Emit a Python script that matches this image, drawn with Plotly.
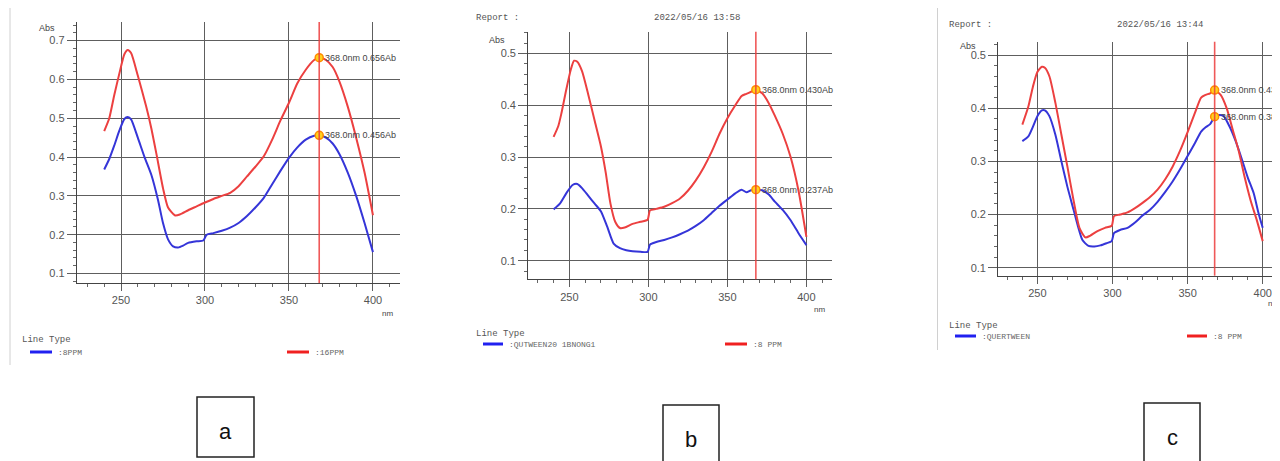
import plotly.graph_objects as go

# page body has an 8px default margin; figure is sized/offset to compensate
OFF = 8
W, H = 1280 - OFF, 461 - OFF

# ---------------- data ----------------
# Panel a
a_nm_red = [240, 243, 246, 249, 252, 254, 256, 260, 265, 268, 271, 275, 278, 282, 285, 290, 295, 300, 305, 310,
            315, 320, 325, 330, 335, 340, 345, 350, 355, 360, 365, 368, 372, 376, 380, 385, 390, 395, 400]
a_red = [0.467, 0.50, 0.56, 0.615, 0.665, 0.676, 0.668, 0.61, 0.53, 0.475, 0.41, 0.32, 0.27, 0.25, 0.252, 0.263,
         0.273, 0.283, 0.292, 0.30, 0.308, 0.325, 0.35, 0.375, 0.402, 0.445, 0.495, 0.54, 0.59, 0.625, 0.65, 0.656,
         0.65, 0.632, 0.595, 0.53, 0.45, 0.36, 0.25]
a_nm_blue = [240, 243, 246, 249, 252, 254, 256, 260, 264, 268, 272, 275, 278, 281, 284, 287, 290, 295, 299, 301,
             305, 310, 315, 320, 325, 330, 335, 340, 345, 350, 355, 360, 365, 368, 372, 376, 380, 385, 390, 395, 400]
a_blue = [0.368, 0.395, 0.43, 0.468, 0.498, 0.503, 0.497, 0.45, 0.40, 0.355, 0.29, 0.23, 0.188, 0.17, 0.167, 0.172,
          0.179, 0.183, 0.185, 0.2, 0.204, 0.21, 0.218, 0.23, 0.248, 0.27, 0.295, 0.33, 0.365, 0.398, 0.425, 0.445,
          0.455, 0.456, 0.45, 0.435, 0.408, 0.36, 0.30, 0.23, 0.155]
a_names = [":8PPM", ":16PPM"]
a_cursor = [0.456, 0.656]

# Panel b
b_nm_red = [240, 243, 245, 248, 251, 253, 255, 258, 262, 266, 270, 273, 276, 279, 282, 285, 290, 295, 299.5, 301,
            305, 310, 315, 320, 325, 330, 335, 340, 345, 350, 355, 359, 362, 365, 368, 372, 376, 380, 385, 390, 395, 400]
b_red = [0.339, 0.36, 0.385, 0.43, 0.47, 0.486, 0.484, 0.466, 0.42, 0.37, 0.32, 0.27, 0.21, 0.175, 0.163, 0.164,
         0.171, 0.175, 0.179, 0.197, 0.20, 0.204, 0.211, 0.22, 0.235, 0.255, 0.28, 0.31, 0.345, 0.375, 0.40, 0.418,
         0.422, 0.426, 0.430, 0.423, 0.405, 0.38, 0.345, 0.30, 0.235, 0.146]
b_nm_blue = [240, 244, 248, 252, 255, 258, 262, 266, 270, 274, 278, 282, 286, 290, 295, 299.5, 301, 305, 310, 315,
             320, 325, 330, 335, 340, 345, 350, 355, 359, 362, 365, 368, 372, 376, 380, 385, 390, 395, 400]
b_blue = [0.199, 0.21, 0.23, 0.246, 0.248, 0.24, 0.225, 0.21, 0.195, 0.165, 0.133, 0.124, 0.12, 0.118, 0.117, 0.117,
          0.131, 0.136, 0.14, 0.145, 0.151, 0.158, 0.167, 0.178, 0.192, 0.206, 0.218, 0.23, 0.237, 0.232, 0.236,
          0.237, 0.236, 0.228, 0.214, 0.198, 0.178, 0.153, 0.13]
b_names = [":QUTWEEN20 1BNONG1", ":8 PPM"]
b_cursor = [0.237, 0.430]
b_date = "2022/05/16 13:58"

# Panel c
c_nm_red = [240, 244, 247, 250, 253, 255, 258, 262, 266, 270, 274, 278, 282, 285, 290, 295, 299.5, 301, 305, 310,
            315, 320, 325, 330, 335, 340, 345, 350, 355, 359, 362, 365, 368, 372, 376, 380, 384, 388, 392, 396, 400]
c_red = [0.369, 0.403, 0.44, 0.468, 0.478, 0.476, 0.46, 0.41, 0.35, 0.29, 0.228, 0.175, 0.157, 0.16, 0.169, 0.175,
         0.179, 0.197, 0.20, 0.204, 0.212, 0.222, 0.233, 0.247, 0.266, 0.29, 0.32, 0.355, 0.392, 0.42, 0.425, 0.428,
         0.434, 0.425, 0.40, 0.36, 0.32, 0.27, 0.226, 0.19, 0.15]
c_nm_blue = [240, 244, 247, 250, 253, 255, 258, 262, 266, 270, 274, 277, 280, 284, 288, 292, 296, 299.5, 301, 305,
             310, 315, 320, 325, 330, 335, 340, 345, 350, 355, 359, 362, 365, 368, 371, 374, 378, 382, 386, 390, 394,
             397, 400]
c_blue = [0.338, 0.347, 0.365, 0.385, 0.396, 0.396, 0.385, 0.35, 0.30, 0.252, 0.21, 0.178, 0.152, 0.141, 0.14, 0.142,
          0.146, 0.15, 0.165, 0.171, 0.175, 0.185, 0.198, 0.209, 0.224, 0.242, 0.262, 0.285, 0.31, 0.335, 0.356,
          0.364, 0.37, 0.384, 0.387, 0.385, 0.365, 0.338, 0.305, 0.27, 0.24, 0.205, 0.175]
c_names = [":QUERTWEEN", ":8 PPM"]
c_cursor = [0.384, 0.434]
c_date = "2022/05/16 13:44"

cursor_nm = 368.0
x_ticks = [250, 300, 350, 400]
panel_letters = ["a", "b", "c"]

# ---------------- layout helpers (window pixels -> paper) ----------------
def px(x):
    return (x - OFF) / W

def py(y):
    return 1 - (y - OFF) / H

RED = "#ec4040"
BLUE = "#3535d8"
GRID = "#5e5e5e"
TICKFONT = dict(family="Liberation Sans", size=11, color="#555")
MONO = "Liberation Mono"


def note(x, y, text, size, family="Liberation Sans", color="#444", xanchor="center"):
    return dict(x=px(x), y=py(y), xref="paper", yref="paper", text=text, showarrow=False,
                xanchor=xanchor, yanchor="middle", font=dict(family=family, size=size, color=color))


panels = [
    dict(nm=(a_nm_blue, a_nm_red), ab=(a_blue, a_red), names=a_names, cur=a_cursor,
         xdom=(77, 400), ydom=(22, 283), xr=(223.8, 416.1), yr=(0.0755, 0.748), ydt=0.1,
         abs_xy=(47, 28), nm_xy=(387, 313), date=None),
    dict(nm=(b_nm_blue, b_nm_red), ab=(b_blue, b_red), names=b_names, cur=b_cursor,
         xdom=(528.3, 831.7), ydom=(31.7, 279.3), xr=(224, 416), yr=(0.064, 0.542), ydt=0.1,
         abs_xy=(497, 40), nm_xy=(819, 309), date=(474, 697, 18, b_date)),
    dict(nm=(c_nm_blue, c_nm_red), ab=(c_blue, c_red), names=c_names, cur=c_cursor,
         xdom=(998.3, 1280), ydom=(41.7, 275.7), xr=(224, 411.5), yr=(0.085, 0.525), ydt=0.1,
         abs_xy=(968, 46), nm_xy=(1273, 303), date=(947, 1160, 25, c_date)),
]

legend_pos = [
    dict(lt=(20, 340), blue=(30, 52, 352), red=(287, 309, 352)),
    dict(lt=(474, 334), blue=(483, 503, 344), red=(725, 747, 344)),
    dict(lt=(947, 326), blue=(955, 976, 336), red=(1187, 1207, 336)),
]

boxes = [(197, 397, 254, 457), (663, 405, 719, 470), (1144, 403, 1200, 470)]

fig = go.Figure()
layout = dict(width=W, height=H, margin=dict(l=0, r=0, t=0, b=0), plot_bgcolor="white",
              paper_bgcolor="white", showlegend=False)
annotations = []
shapes = []

for i, p in enumerate(panels):
    k = "" if i == 0 else str(i + 1)
    xa, ya = "x" + k, "y" + k
    for nm, ab, col in [(p["nm"][0], p["ab"][0], BLUE), (p["nm"][1], p["ab"][1], RED)]:
        fig.add_trace(go.Scatter(x=nm, y=ab, mode="lines", line=dict(color=col, width=2, shape="spline", smoothing=0.6),
                                 xaxis=xa, yaxis=ya, hoverinfo="skip"))
    # cursor line
    shapes.append(dict(type="line", xref=xa, yref=ya + " domain", x0=cursor_nm, x1=cursor_nm, y0=0, y1=1,
                       line=dict(color="rgba(236,60,60,0.85)", width=1.6), layer="above"))
    fig.add_trace(go.Scatter(x=[cursor_nm] * 2, y=p["cur"], mode="markers",
                             marker=dict(size=8, color="#ffd21f", line=dict(color="#ff8c00", width=1.5)),
                             xaxis=xa, yaxis=ya, hoverinfo="skip"))
    for v in p["cur"]:
        annotations.append(dict(x=cursor_nm, y=v, xref=xa, yref=ya, text=f"{cursor_nm:.1f}nm {v:.3f}Ab",
                                showarrow=False, xanchor="left", yanchor="middle", xshift=4,
                                font=dict(family="Liberation Sans", size=9, color="#444")))
    axx = dict(domain=[px(p["xdom"][0]), min(1.0, px(p["xdom"][1]))], range=list(p["xr"]), anchor=ya,
               tickvals=x_ticks, ticks="outside", ticklen=7, tickcolor=GRID, tickwidth=1.3,
               showgrid=True, gridcolor=GRID, gridwidth=1.3, showline=True, linecolor="#444", linewidth=1.3,
               zeroline=False, tickfont=TICKFONT,
               minor=dict(dtick=10, tick0=0, ticks="outside", ticklen=3, tickcolor="#666", showgrid=False))
    axy = dict(domain=[py(p["ydom"][1]), py(p["ydom"][0])], range=list(p["yr"]), anchor=xa,
               dtick=p["ydt"], tick0=0, tickformat=".1f", ticks="outside", ticklen=9, tickcolor=GRID, tickwidth=1.3,
               showgrid=True, gridcolor=GRID, gridwidth=1.3, showline=True, linecolor="#444", linewidth=1.3,
               zeroline=False, tickfont=TICKFONT,
               minor=dict(dtick=0.02, tick0=0, ticks="outside", ticklen=3, tickcolor="#666", showgrid=False))
    layout["xaxis" + k] = axx
    layout["yaxis" + k] = axy
    annotations.append(note(*p["abs_xy"], "Abs", 9))
    annotations.append(note(*p["nm_xy"], "nm", 8))
    if p["date"]:
        rx, dx, dy, dtext = p["date"]
        annotations.append(note(rx, dy, "Report :", 9, MONO, "#555", "left"))
        annotations.append(note(dx, dy, dtext, 9, MONO, "#555"))
    # legend
    lp = legend_pos[i]
    annotations.append(note(*lp["lt"], "Line Type", 9, MONO, "#555", "left"))
    for key, col, name in [("blue", "#2020f0", p["names"][0]), ("red", "#f02020", p["names"][1])]:
        x0, x1, yy = lp[key]
        shapes.append(dict(type="line", xref="paper", yref="paper", x0=px(x0), x1=px(x1), y0=py(yy), y1=py(yy),
                           line=dict(color=col, width=3)))
        annotations.append(note(x1 + 4, yy, name, 8, MONO, "#666", "left"))
    # letter boxes
    bx0, by0, bx1, by1 = boxes[i]
    shapes.append(dict(type="rect", xref="paper", yref="paper", x0=px(bx0), x1=px(bx1), y0=py(by1), y1=py(by0),
                       line=dict(color="#222", width=1.5)))
    annotations.append(note((bx0 + bx1) / 2, by0 + 34, panel_letters[i], 22, color="#111"))

# report frame edges
shapes.append(dict(type="line", xref="paper", yref="paper", x0=px(10), x1=px(10), y0=py(365), y1=py(OFF),
                   line=dict(color="#d0d0d0", width=1)))
shapes.append(dict(type="line", xref="paper", yref="paper", x0=px(937.5), x1=px(937.5), y0=py(350), y1=py(OFF),
                   line=dict(color="#d0d0d0", width=1)))

layout["annotations"] = annotations
layout["shapes"] = shapes
fig.update_layout(**layout)
fig.write_html("out.html")
